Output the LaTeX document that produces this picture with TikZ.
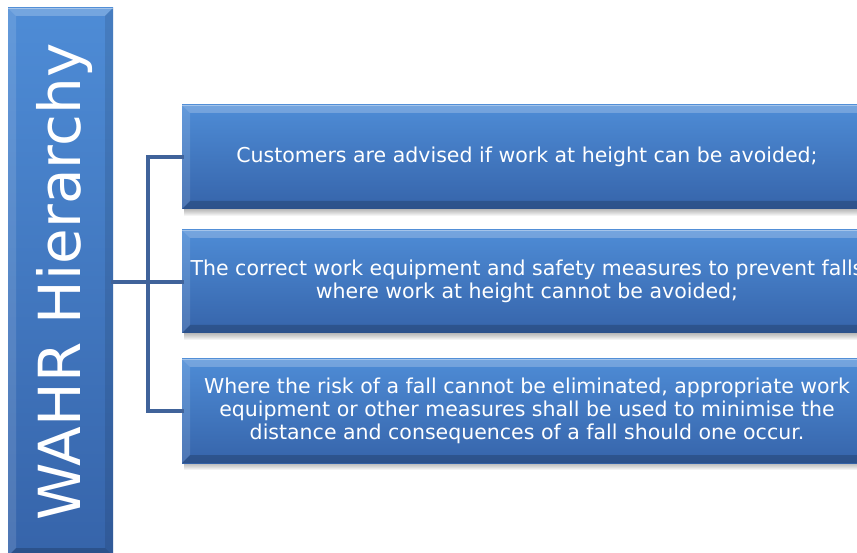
\documentclass[tikz,border=0pt]{standalone}
\usepackage{fontspec}
\setmainfont{DejaVu Sans}
\definecolor{boxtop}{RGB}{78,140,214}
\definecolor{boxbot}{RGB}{54,100,170}
\definecolor{connc}{RGB}{64,99,154}
\tikzset{
  bevelbox/.style={top color=boxtop, bottom color=boxbot, draw=none, inner sep=0pt,
    text=white, align=center,
    path picture={
      \path (path picture bounding box.north west) coordinate (pnw)
            (path picture bounding box.north east) coordinate (pne)
            (path picture bounding box.south west) coordinate (psw)
            (path picture bounding box.south east) coordinate (pse);
      \fill[white,opacity=0.22] (pnw) -- (pne) -- ([shift={(-8pt,-8pt)}]pne) -- ([shift={(8pt,-8pt)}]pnw) -- cycle;
      \fill[white,opacity=0.12] (pnw) -- ([shift={(8pt,-8pt)}]pnw) -- ([shift={(8pt,8pt)}]psw) -- (psw) -- cycle;
      \fill[black,opacity=0.18] (psw) -- ([shift={(8pt,8pt)}]psw) -- ([shift={(-8pt,8pt)}]pse) -- (pse) -- cycle;
      \fill[black,opacity=0.10] (pne) -- (pse) -- ([shift={(-8pt,8pt)}]pse) -- ([shift={(-8pt,-8pt)}]pne) -- cycle;
      \draw[white,opacity=0.35,line width=1pt] ([yshift=-0.5pt]pnw) -- ([yshift=-0.5pt]pne);
    }},
  itemtext/.style={font=\fontsize{20.5}{23}\selectfont},
  conn/.style={draw=connc, line width=4.5pt, line join=miter, line cap=rect},
  boxshadow/.style={fill=black, opacity=0.045}
}
\begin{document}
\begin{tikzpicture}[x=1pt,y=-1pt]
\useasboundingbox (0,0) rectangle (857,553);
\clip (0,0) rectangle (857,553);
\fill[white] (0,0) rectangle (857,553);

% shadows
\foreach \cy/\h in {157/104, 281.5/103, 411/104} {
  \foreach \k in {1,...,7} {
    \fill[boxshadow] (184,\cy-\h/2+\k) rectangle (880,\cy+\h/2+\k);
  }
}

% connector junctions
\coordinate (jt) at (148,157);
\coordinate (jm) at (148,282);
\coordinate (jb) at (148,411);
\coordinate (tcon) at (113,282);

% boxes
\node[bevelbox, minimum width=105pt, minimum height=548pt] (title) at (60.5,282) {};
\node[rotate=90, anchor=base, text=white, font=\fontsize{58}{58}\selectfont] (ttext) at (80,282) {WAHR Hierarchy};

\node[bevelbox, itemtext, minimum width=690pt, minimum height=104pt] (b1) at (527,157)
  {Customers are advised if work at height can be avoided;};
\node[bevelbox, itemtext, minimum width=690pt, minimum height=103pt] (b2) at (527,281.5)
  {The correct work equipment and safety measures to prevent falls\\where work at height cannot be avoided;};
\node[bevelbox, itemtext, minimum width=690pt, minimum height=104pt] (b3) at (527,411)
  {Where the risk of a fall cannot be eliminated, appropriate work\\equipment or other measures shall be used to minimise the\\distance and consequences of a fall should one occur.};

\draw[conn] (b1.west) -- (jt) -- (jb) -- (b3.west);
\draw[conn] (title.east |- tcon) -- (jm) -- (b2.west |- jm);
\end{tikzpicture}
\end{document}
